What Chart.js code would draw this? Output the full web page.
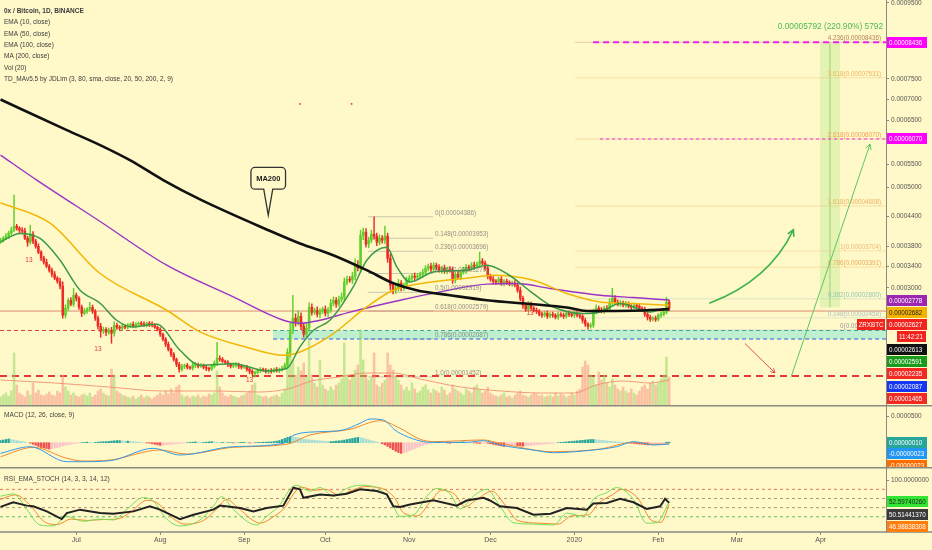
<!DOCTYPE html>
<html lang="en">
<head>
<meta charset="UTF-8">
<title>0x / Bitcoin, 1D, BINANCE</title>
<script src="https://cdn.jsdelivr.net/npm/chart.js"></script>
<style>
  html, body { margin: 0; padding: 0; background: #fff8c9; }
  #wrap { position: relative; width: 932px; height: 550px; overflow: hidden; background: #fff8c9; }
  #wrap canvas { position: absolute; left: 0; }
</style>
</head>
<body>
<div id="wrap">
  <canvas id="priceChart" width="932" height="405" style="top:0"></canvas>
  <canvas id="macdChart" width="932" height="62" style="top:405px"></canvas>
  <canvas id="rsiChart" width="932" height="83" style="top:467px"></canvas>
</div>
<script>
// ---- data (prices in satoshi, day index 0 = 3 Jun 2019) ----
const monthDays = [28, 59, 90, 120, 151, 181, 212, 243, 272, 303];
const monthLabels = ['Jul', 'Aug', 'Sep', 'Oct', 'Nov', 'Dec', '2020', 'Feb', 'Mar', 'Apr'];

const firstOpen = 3880;
const closes = [
  3915, 3955, 3995, 4055, 4115, 4195, 4155, 4115, 4095, 3955, 3875, 4035, 3895,
  3795, 3680, 3563, 3486, 3409, 3333, 3257, 3182, 3125, 3033, 2504,
  2629, 2774, 2702, 2866, 2810, 2647, 2540, 2575, 2611, 2647, 2575,
  2450, 2310, 2222, 2256, 2205, 2239, 2187, 2327, 2292, 2275, 2310, 2292,
  2327, 2345, 2310, 2345, 2362, 2345, 2327, 2362, 2345, 2327, 2292, 2256,
  2170, 2083, 1997, 1912, 1827, 1743, 1660, 1577,
  1627, 1643, 1610, 1594, 1643, 1660, 1627, 1643, 1610, 1594, 1577, 1627, 1676,
  1760, 1743, 1709, 1693, 1660, 1627, 1643, 1660, 1627, 1610, 1610, 1577, 1543, 1511, 1527,
  1560, 1577, 1560, 1543, 1560, 1543, 1577, 1560, 1577, 1594, 1643,
  1861, 2239, 2450, 2380, 2486, 2310, 2170, 2275,
  2647, 2557, 2593, 2522, 2575, 2611, 2540, 2593, 2720, 2774, 2702, 2792, 2829,
  3106, 3163, 3144, 3220, 3428, 3371, 4014, 4075, 3836, 3915, 4035, 3995, 3875, 3955, 3915, 3995,
  3563, 3051, 2958, 2995, 3088, 3014, 3051, 3144, 3182, 3220, 3201, 3220, 3257, 3295, 3371, 3409, 3352, 3428,
  3390, 3333, 3371, 3314, 3352, 3333, 3144, 3257, 3201, 3295, 3333, 3390, 3371, 3428, 3409, 3447, 3505, 3466, 3371, 3220,
  3163, 3125, 3106, 3163, 3088, 3125, 3106, 3070, 3088, 3051, 2958, 2810, 2684, 2611, 2702, 2629, 2593, 2575, 2522, 2504,
  2540, 2486, 2522, 2504, 2468, 2522, 2504, 2486, 2540, 2522, 2504, 2540, 2504, 2486, 2415, 2345, 2310, 2327,
  2557, 2629, 2593, 2575, 2629, 2611, 2738, 2810, 2738, 2702, 2720, 2684, 2702, 2666, 2647, 2684, 2666, 2629, 2611,
  2522, 2468, 2433, 2450, 2433, 2504, 2522, 2557, 2738, 2627
];
const wickUp = [
  40, 30, 50, 40, 60, 641, 40, 30, 50, 60, 40, 180, 50,
  40, 50, 30, 40, 60, 30, 40, 50, 30, 60, 80,
  60, 40, 50, 129, 40, 30, 40, 50, 30, 91, 40,
  30, 40, 50, 40, 30, 40, 50, 60, 40, 30, 40, 30,
  30, 20, 40, 30, 20, 30, 40, 20, 30, 40, 30, 20,
  30, 20, 30, 40, 20, 30, 20, 30,
  30, 20, 30, 20, 40, 30, 20, 30, 20, 30, 20, 30, 40,
  271, 40, 30, 20, 30, 20, 40, 30, 20, 30, 20, 30, 20, 30, 20,
  20, 30, 20, 30, 20, 30, 20, 30, 20, 30, 40,
  60, 120, 416, 80, 100, 60, 40, 80,
  80, 60, 40, 60, 50, 40, 60, 50, 70, 60, 50, 60, 80,
  80, 60, 50, 70, 120, 90, 100, 80, 70, 60, 80, 351, 60, 70, 50, 200,
  60, 80, 50, 60, 70, 50, 40, 60, 50, 40, 60, 50, 40, 60, 50, 40, 60, 50,
  40, 50, 40, 60, 40, 50, 60, 40, 50, 40, 60, 50, 40, 50, 60, 40, 175, 50, 40, 60,
  40, 50, 30, 40, 50, 30, 40, 30, 40, 50, 40, 60, 40, 30, 50, 40, 30, 40, 30, 40,
  30, 40, 30, 40, 30, 40, 30, 40, 30, 40, 30, 40, 30, 40, 30, 40, 30, 40,
  50, 60, 40, 50, 40, 50, 60, 185, 50, 40, 50, 40, 50, 40, 30, 40, 30, 40, 30,
  40, 30, 40, 30, 40, 30, 40, 50, 91, 40
];
const wickDn = [
  30, 40, 30, 50, 40, 30, 40, 60, 40, 30, 80, 40, 50,
  40, 30, 50, 40, 30, 40, 50, 30, 40, 50, 54,
  50, 40, 30, 40, 50, 40, 60, 30, 40, 30, 40,
  40, 50, 104, 40, 60, 40, 173, 50, 40, 30, 40, 30,
  30, 40, 20, 30, 40, 30, 20, 30, 40, 30, 20, 30,
  40, 30, 40, 30, 40, 30, 40, 50,
  30, 40, 30, 20, 30, 40, 30, 20, 30, 40, 30, 20, 30,
  40, 30, 20, 30, 40, 30, 20, 30, 40, 30, 20, 30, 40, 30, 59,
  30, 40, 20, 30, 40, 30, 20, 30, 40, 30, 20,
  40, 80, 60, 70, 50, 60, 52, 60,
  60, 50, 40, 50, 60, 40, 50, 60, 40, 50, 60, 40, 50,
  60, 50, 40, 60, 70, 50, 80, 90, 60, 70, 50, 60, 70, 50, 60, 70,
  80, 90, 70, 60, 50, 70, 60, 50, 40, 50, 60, 40, 50, 60, 40, 50, 60, 40,
  50, 40, 60, 40, 50, 40, 60, 50, 40, 50, 40, 60, 50, 40, 50, 40, 60, 50, 40, 50,
  40, 50, 40, 30, 40, 50, 40, 30, 40, 30, 40, 50, 60, 40, 30, 40, 30, 40, 30, 40,
  30, 40, 30, 40, 30, 40, 30, 40, 30, 40, 30, 40, 30, 40, 50, 40, 50, 35,
  40, 30, 40, 30, 40, 30, 40, 50, 40, 30, 40, 30, 40, 30, 40, 30, 40, 30, 40,
  40, 50, 40, 30, 40, 30, 40, 30, 30, 40
];
const volumes = [
  8, 10, 12, 9, 14, 52, 20, 12, 10, 8, 14, 10, 22,
  12, 15, 10, 9, 11, 13, 10, 9, 14, 12, 30,
  18, 14, 10, 12, 9, 8, 10, 11, 9, 12, 8, 10, 14, 16, 12, 10, 9,
  36, 30, 14, 12, 10, 9,
  8, 7, 9, 6, 8, 10, 7, 9, 8, 6, 8, 10,
  12, 10, 14, 11, 16, 12, 18, 20,
  10, 8, 9, 7, 9, 8, 10, 7, 9, 8, 11, 10, 12,
  34, 18, 12, 9, 8, 10, 9, 8, 7, 9, 10, 12, 14, 20, 22,
  10, 9, 8, 9, 7, 8, 9, 10, 8, 12, 16,
  40, 52, 45, 30, 38, 34, 42, 28,
  65, 30, 22, 18, 45, 20, 16, 14, 18, 15, 20, 22, 26,
  62, 30, 25, 28, 35, 40, 75, 45, 30, 25, 28, 52, 20, 18, 22, 25, 52,
  40, 35, 28, 25, 20, 15, 18, 14, 22, 16, 12, 14, 18, 20, 15, 12, 16,
  14, 12, 18, 15, 10, 12, 20, 16, 14, 12, 10, 16, 14, 12, 18, 20, 15, 12, 14, 18,
  12, 10, 9, 8, 10, 12, 8, 9, 7, 10, 12, 14, 10, 9, 8, 10, 12, 11, 9, 10,
  8, 9, 10, 8, 12, 9, 11, 10, 8, 9, 12, 10, 14, 16,
  38, 44, 40, 30, 28, 20, 33, 25, 30, 22, 18, 26, 20, 16, 14, 18,
  14, 12, 16, 12, 10, 14, 18, 20, 16, 22, 24, 20, 22, 26, 30, 48, 28
];
const volMaDay = [0, 20, 40, 60, 80, 95, 106, 115, 125, 135, 145, 155, 170, 185, 200, 212, 220, 230, 240, 247];
const volMaVal = [25, 22, 18, 14, 14, 13, 16, 24, 28, 32, 32, 26, 18, 14, 12, 12, 20, 24, 22, 25];

const ema10Day = [0, 7.2, 14.6, 22, 29.4, 36.8, 42.9, 49.1, 57.7, 66.3, 73.7, 86, 98.3, 105.7, 110.6, 115.6, 121.7, 130.3, 135.3, 142.7, 146.4, 151.3, 159.9, 172.2, 179.6, 187, 196.8, 204.2, 215.3, 221.5, 228.9, 240, 246.1, 247];
const ema10Val = [3880, 4050, 3950, 3524, 2958, 2720, 2415, 2296, 2345, 1895, 1643, 1670, 1549, 1588, 1952, 2239, 2415, 3018, 3524, 3775, 3395, 3111, 3300, 3333, 3428, 3270, 2896, 2652, 2535, 2562, 2716, 2562, 2623, 2591];
const ema50Day = [0, 18.3, 36.8, 61.4, 73.7, 92.2, 104.5, 110.6, 122, 135.3, 145.1, 159.9, 172.2, 182, 196.8, 209.2, 221.5, 233.8, 247];
const ema50Val = [4675, 4255, 3270, 2593, 2210, 1930, 1810, 1866, 2150, 2652, 2958, 3116, 3180, 3238, 3144, 2896, 2744, 2716, 2682];
const ema100Day = [0, 13.4, 36.8, 61.4, 86, 104.5, 110.6, 118, 129.1, 147.6, 162.4, 179.6, 190.7, 203, 221.5, 233.8, 247];
const ema100Val = [5705, 5157, 4290, 3428, 2835, 2415, 2362, 2415, 2560, 2774, 2927, 3070, 3082, 2990, 2866, 2823, 2778];
const ma200Day = [0, 24.5, 36.8, 47.8, 60.1, 73.7, 98.3, 110.6, 122.9, 135.3, 145.1, 153.7, 166, 179.6, 196.8, 209.2, 216.5, 233.8, 247];
const ma200Val = [6996, 6274, 5931, 5594, 5157, 4746, 4129, 3850, 3621, 3333, 3088, 2958, 2866, 2774, 2702, 2642, 2580, 2585, 2613];

const priceTicks = [3000, 3400, 3800, 4400, 5000, 5500, 6500, 7000, 7500, 9500];

// MACD, values in 1e-8
const macdDay = [0, 10.9, 24.5, 29.4, 40.5, 56.4, 66.3, 86, 104.5, 106.9, 110.6, 118, 126.6, 132.8, 136.5, 141.4, 145.7, 147.6, 153.7, 158.7, 172.2, 178.4, 184.5, 196.8, 204.2, 215.3, 227.6, 233.8, 241.2, 247];
const macdVal = [-199, -75, -356, -356, -337, -105, -230, -75, -11, 101, 176, 206, 238, 363, 444, 425, 238, 176, 51, 7, 7, 37, -43, -137, -187, -155, -75, 19, -43, -23];
const signalDay = [0, 12.1, 24.5, 30.6, 40.5, 58.9, 68.8, 86, 105.7, 114.3, 129.1, 140.2, 147.6, 155, 159.9, 178.4, 184.5, 204.2, 221.5, 233.8, 241.2, 247];
const signalVal = [-262, -86, -292, -343, -324, -137, -212, -86, -30, 144, 251, 412, 270, 64, 19, 51, -11, -169, -118, 7, -30, -23];
const hist = [
  40, 50, 60, 70, 60, 50, 40, 30,
  20, 10, 0, -10,
  -30, -50, -70, -90, -100, -110, -120, -110, -100, -90, -80, -60, -50, -40, -30,
  -20, -10, -5, 0, 5, 10, 5, 0, 5, 10, 15, 20, 20,
  25, 30, 35, 40, 40, 35, 30, 30, 25, 20, 15, 10, 5, 0, -5,
  -10, -20, -30, -40, -50, -45,
  -40, -35, -30, -25, -20, -15, -10, -5, 0,
  5, 10, 15, 10, 5, 5, 10, 15, 20, 15, 10, 5, 5, 0, 0,
  0, -5, -5, 0, 5, 5, 0, -5, -5, 0, 5, 5, 10, 10, 15, 15, 20,
  30, 40, 60, 80, 100, 110, 105, 100, 90, 80,
  70, 60, 55, 50, 45, 40, 35, 30, 25, 20, 20, 25, 30, 35,
  40, 50, 60, 70, 80, 90, 100, 95, 85, 70,
  55, 40, 25, 10, 0, -20, -40, -70,
  -100, -130, -160, -185, -200, -190, -175, -150,
  -130, -110, -90, -70, -50, -35, -20, -10, 0,
  5, 10, 5, 0, -5, -10, -5, 0, 5, 10, 15, 10, 5, 0, -5,
  -10, -15, -10, -5, -10, -20, -30, -40,
  -50, -60, -70, -65, -60, -55, -50, -55, -60, -65, -60, -55, -50, -45, -40, -35, -30, -25, -20, -15,
  -10, -5, 0, 5, 10,
  15, 20, 25, 30, 35, 40, 45, 50, 55, 60, 60, 55, 50, 45, 40, 35, 30, 25, 20, 15, 10, 5,
  0, -5, -10, -15, -20, -25, -30,
  -35, -40, -35, -30, -25, -20, -15, -10, 10, 10
];

// RSI_EMA_STOCH
const rsiDay = [0, 4.7, 9.7, 12.1, 17.1, 22.6, 24.5, 29.4, 36.8, 41.7, 49.1, 55.2, 58.9, 66.3, 71.3, 78.6, 81.1, 88.5, 93.4, 98.3, 104.5, 108.2, 110.6, 111.9, 118, 123, 127.9, 132.8, 139, 142.7, 145.1, 147.6, 151.3, 159.9, 168.5, 172.2, 178.4, 180.8, 184.5, 190.7, 196.9, 203.2, 209.2, 216.6, 219, 224, 228.9, 233.8, 238.7, 243.7, 245.5, 247];
const rsiVal = [41.6, 51.8, 44.4, 42.9, 31.8, 14.9, 28.2, 35.6, 28.2, 26.7, 31.8, 42.9, 35.6, 14.9, 24.4, 35.6, 44.4, 39.3, 31.8, 39.3, 44.4, 83.8, 80, 61.6, 68.9, 66.7, 70.4, 80, 76.3, 68.9, 42.9, 41.6, 46.7, 56.3, 44.4, 55.6, 61.6, 55.6, 42.9, 39.3, 24.4, 26.7, 39.3, 35.6, 48.9, 50.4, 59.3, 51.8, 37.1, 42.9, 59.3, 50.5];
const kDay = [0, 4.9, 9.7, 14.6, 19.5, 24.5, 30.6, 36.8, 41.7, 46.6, 52.8, 56.5, 61.4, 66.3, 73.7, 78.6, 81.7, 86, 94.6, 98.3, 103.3, 106.9, 109.4, 114.3, 118, 123, 127.9, 132.8, 139, 143.9, 147.6, 152.5, 157.5, 161.1, 166.1, 169.8, 174.7, 179.6, 184.5, 189.5, 196.9, 204.3, 209.2, 215.3, 219, 224, 227.6, 233.8, 238.7, 242.4, 247];
const kVal = [65, 70, 36, 2, 0, 21, 10, 15, 13, 36, 62, 54, 15, 0, 13, 43, 64, 36, 2, 21, 47, 80, 89, 76, 84, 65, 82, 89, 84, 58, 21, 24, 65, 82, 70, 37, 65, 80, 43, 7, 4, 2, 28, 21, 58, 73, 84, 58, 6, 7, 52.6];
const dDay = [0, 5.5, 11, 16, 21, 26, 32, 38, 43, 48, 54, 58, 63, 68, 75, 80, 83.5, 88, 96, 100, 105, 108.5, 111, 116, 120, 125, 130, 134.5, 141, 145.5, 149, 154, 159, 163, 168, 171.5, 176, 181.5, 186.5, 191, 199, 206, 211, 217, 221, 226, 229.5, 235.5, 240.5, 244, 247];
const dVal = [58, 68, 45, 10, 3, 15, 12, 14, 15, 30, 56, 50, 20, 4, 12, 38, 58, 38, 6, 17, 40, 72, 85, 78, 80, 68, 78, 86, 82, 62, 28, 22, 55, 78, 68, 42, 58, 76, 45, 12, 6, 4, 22, 24, 50, 68, 80, 60, 12, 8, 47];
const rsiLevels = [80, 60, 40, 20];

// drawings
const fibLeftLevels = ['0', '0.148', '0.236', '0.382', '0.5', '0.618', '0.786', '1.0'];
const fibLeftVals = [4386, 3953, 3696, 3270, 2919, 2579, 2087, 1452];
const fibRightLevels = ['4.236', '3.618', '2.618', '1.618', '1', '0.786', '0.382', '0.148', '0'];
const fibRightVals = [8436, 7531, 6070, 4608, 3704, 3391, 2800, 2458, 2242];
const targetVals = [8436, 6070];
const rangeVals = [2644, 8436];
const rangeText = '0.00005792 (220.90%) 5792';
const zoneVals = [2235, 2087];
const priceLineVal = 2579;
const supportVal = 1465;
const priceBadgeVals = [2778, 2682, 2627, 2613, 2591, 2235, 2087, 1465];
const countdown = '11:42:21';
const macdBadgeVals = [10, -23, -23];
const rsiBadgeVals = [52.5974026, 50.5144137, 46.98838308];
const legendLines = ['0x / Bitcoin, 1D, BINANCE', 'EMA (10, close)', 'EMA (50, close)', 'EMA (100, close)', 'MA (200, close)', 'Vol (20)', 'TD_MAv5.5 by JDLim (3, 80, sma, close, 20, 50, 200, 2, 9)'];
const tdDays = [10.5, 36, 92, 195.6];
const tdVals = [3524, 1912, 1390, 2540];

// ---- styles / layout ----
const FONT = '"Liberation Sans", Arial, sans-serif';
const BG = '#fff8c9';
const UP = '#5fcf2b', DOWN = '#ec2b25';
const xMin = -0.185, xMax = 327.1;
const AXIS_W = 46;
const OFF = 10150;
const badgeColors = ['#9c27b0', '#f5b400', '#f2231d', '#111111', '#1a9b1c', '#f22a22', '#1537f5', '#f22a22'];
const fibRightColors = ['#b5835a', '#f1b45c', '#f0a050', '#f0b060', '#f0b878', '#eeaa55', '#8fc9b8', '#a8c4cc', '#999999'];

// price scale: log of (value + offset)
class OffsetLogScale extends Chart.LinearScale {
  static id = 'offsetlog';
  static defaults = {};
  getPixelForValue(v) {
    const a = Math.log(this.min + OFF), b = Math.log(this.max + OFF);
    return this.getPixelForDecimal((Math.log(v + OFF) - a) / (b - a));
  }
  getValueForPixel(p) {
    const a = Math.log(this.min + OFF), b = Math.log(this.max + OFF);
    return Math.exp(a + this.getDecimalForPixel(p) * (b - a)) - OFF;
  }
}
Chart.register(OffsetLogScale);

const pts = (xs, ys) => xs.map((x, k) => ({ x: x, y: ys[k] }));
const sat8 = v => '0.' + String(Math.round(v)).padStart(8, '0');
const opens = closes.map((c, i) => i === 0 ? firstOpen : closes[i - 1]);
const isUp = closes.map((c, i) => c >= opens[i]);

function seg(ctx, x1, y1, x2, y2, color, w, dash) {
  ctx.save();
  ctx.strokeStyle = color; ctx.lineWidth = w; ctx.setLineDash(dash || []);
  ctx.beginPath(); ctx.moveTo(x1, y1); ctx.lineTo(x2, y2); ctx.stroke();
  ctx.restore();
}
function head(ctx, x, y, ang, size, color, w) {
  ctx.save();
  ctx.strokeStyle = color; ctx.lineWidth = w;
  ctx.beginPath();
  ctx.moveTo(x - size * Math.cos(ang - 0.5), y - size * Math.sin(ang - 0.5));
  ctx.lineTo(x, y);
  ctx.lineTo(x - size * Math.cos(ang + 0.5), y - size * Math.sin(ang + 0.5));
  ctx.stroke();
  ctx.restore();
}
function badge(ctx, x, y, text, bg, fg, w) {
  ctx.fillStyle = bg;
  ctx.fillRect(x, Math.round(y - 5.5), w, 11);
  ctx.fillStyle = fg;
  ctx.font = '6.3px ' + FONT;
  ctx.textAlign = 'left'; ctx.textBaseline = 'middle';
  ctx.fillText(text, x + 2, Math.round(y - 5.5) + 6);
}
function paneLabel(ctx, text, y) {
  ctx.fillStyle = '#444';
  ctx.font = '6.6px ' + FONT;
  ctx.textAlign = 'left'; ctx.textBaseline = 'middle';
  ctx.fillText(text, 4, y);
}
function rightAxis(extra) {
  return Object.assign({
    position: 'right',
    grid: { drawOnChartArea: false, drawTicks: true, tickLength: 3, color: '#8a8a80' },
    border: { display: true, color: '#8a8a80', width: 1 },
    ticks: { font: { size: 6.5, family: FONT }, color: '#555', padding: 2 },
    afterFit(s) { s.width = AXIS_W; s.paddingTop = 0; s.paddingBottom = 0; }
  }, extra);
}
const tickFont = { size: 6.5, family: FONT };
const hiddenX = { type: 'linear', min: xMin, max: xMax, display: false, offset: false, grid: { offset: false } };
const common = { responsive: false, animation: false, layout: { padding: 0 }, plugins: { legend: { display: false }, tooltip: { enabled: false } } };

// ---- price pane ----
const priceDrawings = {
  id: 'priceDrawings',
  beforeDatasetsDraw(chart) {
    const { ctx, chartArea: a, scales } = chart;
    const X = d => scales.x.getPixelForValue(d), Y = v => scales.y.getPixelForValue(v);
    ctx.save();
    ctx.beginPath(); ctx.rect(a.left, a.top, a.right - a.left, a.bottom - a.top); ctx.clip();
    // green price range band
    const bx1 = X(302.7), bx2 = X(310.1);
    ctx.fillStyle = 'rgba(195,235,150,0.45)';
    ctx.fillRect(bx1, Y(rangeVals[1]), bx2 - bx1, Y(rangeVals[0]) - Y(rangeVals[1]));
    seg(ctx, X(306.4), Y(rangeVals[1]), X(306.4), Y(rangeVals[0]), 'rgba(140,200,110,0.8)', 1);
    // fib extension (right)
    fibRightVals.forEach((v, k) => seg(ctx, X(212.2), Y(v), a.right, Y(v), fibRightColors[k] + '55', 1));
    // fib retracement (left)
    fibLeftVals.forEach(v => seg(ctx, X(135.8), Y(v), X(159.8), Y(v), 'rgba(150,150,150,0.5)', 1));
    // horizontal levels
    seg(ctx, a.left, Y(priceLineVal), a.right, Y(priceLineVal), 'rgba(214,120,96,0.85)', 1);
    const zx = X(100.7);
    seg(ctx, a.left, Y(zoneVals[0]), zx, Y(zoneVals[0]), '#e0403a', 1, [4, 3]);
    ctx.fillStyle = 'rgba(110,228,215,0.45)';
    ctx.fillRect(zx, Y(zoneVals[0]), a.right - zx, Y(zoneVals[1]) - Y(zoneVals[0]));
    seg(ctx, zx, Y(zoneVals[0]), a.right, Y(zoneVals[0]), '#3aa5a5', 1, [4, 3]);
    seg(ctx, zx, Y(zoneVals[1]), a.right, Y(zoneVals[1]), '#2a5cf0', 1, [4, 3]);
    seg(ctx, a.left, Y(supportVal), a.right, Y(supportVal), '#e53935', 2, [7, 5]);
    // targets
    seg(ctx, X(218.9), Y(targetVals[0]), a.right, Y(targetVals[0]), '#f020f0', 2, [6, 4]);
    seg(ctx, X(221.5), Y(targetVals[1]), a.right, Y(targetVals[1]), '#f020f0', 1, [3, 3]);
    ctx.restore();
  },
  afterDatasetsDraw(chart) {
    const { ctx, chartArea: a, scales } = chart;
    const X = d => scales.x.getPixelForValue(d), Y = v => scales.y.getPixelForValue(v);
    ctx.save();
    // fib labels
    ctx.font = '6.3px ' + FONT; ctx.textBaseline = 'bottom';
    ctx.textAlign = 'left'; ctx.fillStyle = 'rgba(110,110,110,0.75)';
    fibLeftVals.forEach((v, k) => ctx.fillText(fibLeftLevels[k] + '(' + sat8(v) + ')', X(159.8) + 2, Y(v) - 0.5));
    ctx.textAlign = 'right';
    fibRightVals.forEach((v, k) => {
      ctx.fillStyle = fibRightColors[k];
      ctx.fillText(fibRightLevels[k] + '(' + sat8(v) + ')', a.right - 5, Y(v) - 0.5);
    });
    // range text
    ctx.font = '8.3px ' + FONT; ctx.fillStyle = '#4cbb55'; ctx.textBaseline = 'middle';
    ctx.fillText(rangeText, a.right - 3, Y(rangeVals[1]) - 15.5);
    // arrows
    const p0 = [X(261.8), Y(2720)], pc = [X(283.9), Y(3133)], p1 = [X(292.9), Y(4122)];
    ctx.strokeStyle = '#3cb44b'; ctx.lineWidth = 1.6;
    ctx.beginPath(); ctx.moveTo(p0[0], p0[1]); ctx.quadraticCurveTo(pc[0], pc[1], p1[0], p1[1]); ctx.stroke();
    head(ctx, p1[0], p1[1], Math.atan2(p1[1] - pc[1], p1[0] - pc[0]), 7, '#3cb44b', 1.6);
    const r0 = [X(275), Y(2010)], r1 = [X(286.1), Y(1516)];
    seg(ctx, r0[0], r0[1], r1[0], r1[1], '#e05050', 1);
    head(ctx, r1[0], r1[1], Math.atan2(r1[1] - r0[1], r1[0] - r0[0]), 5, '#e05050', 1);
    const g0 = [X(292), Y(1445)], g1 = [X(321.2), Y(5953)];
    seg(ctx, g0[0], g0[1], g1[0], g1[1], '#5cc860', 1);
    head(ctx, g1[0], g1[1], Math.atan2(g1[1] - g0[1], g1[0] - g0[0]), 6, '#5cc860', 1);
    // MA200 callout
    const cx = X(98.9), ty = Y(4420), bw = 34.6, bh = 21.7, r = 4;
    const bottom = ty - 26, top = bottom - bh, left = cx - bw / 2, right = cx + bw / 2;
    ctx.beginPath();
    ctx.moveTo(left + r, top); ctx.lineTo(right - r, top); ctx.arcTo(right, top, right, top + r, r);
    ctx.lineTo(right, bottom - r); ctx.arcTo(right, bottom, right - r, bottom, r);
    ctx.lineTo(cx + 4.5, bottom); ctx.lineTo(cx, ty); ctx.lineTo(cx - 4.5, bottom);
    ctx.lineTo(left + r, bottom); ctx.arcTo(left, bottom, left, bottom - r, r);
    ctx.lineTo(left, top + r); ctx.arcTo(left, top, left + r, top, r); ctx.closePath();
    ctx.fillStyle = BG; ctx.fill(); ctx.strokeStyle = '#333'; ctx.lineWidth = 1.3; ctx.stroke();
    ctx.fillStyle = '#222'; ctx.font = 'bold 7.5px ' + FONT; ctx.textAlign = 'center'; ctx.textBaseline = 'middle';
    ctx.fillText('MA200', cx, top + bh / 2 + 0.5);
    // TD 13 counts
    ctx.fillStyle = '#e53935'; ctx.font = '6.5px ' + FONT;
    tdDays.forEach((d, k) => ctx.fillText('13', X(d), Y(tdVals[k])));
    // small signal dots
    ctx.fillStyle = '#d33';
    [110.6, 129.7].forEach(d => { ctx.beginPath(); ctx.arc(X(d), Y(6890), 0.9, 0, Math.PI * 2); ctx.fill(); });
    // legend
    ctx.textAlign = 'left'; ctx.textBaseline = 'middle'; ctx.fillStyle = '#3c3c3c';
    legendLines.forEach((t, k) => {
      ctx.font = (k === 0 ? 'bold ' : '') + '6.5px ' + FONT;
      ctx.fillText(t, 4, 11 + k * 11.4);
    });
    // axis badges
    const bx = a.right + 1;
    targetVals.forEach(v => badge(ctx, bx, Y(v), sat8(v), '#ff00ff', '#fff', 40));
    let by = Y(priceBadgeVals[0]);
    priceBadgeVals.forEach((v, k) => {
      badge(ctx, bx, by, sat8(v), badgeColors[k], k === 1 ? '#222' : '#fff', 40);
      if (k === 2) {
        ctx.fillStyle = '#f2231d';
        ctx.fillRect(a.right - 29, Math.round(by - 5.5), 28, 11);
        ctx.fillStyle = '#fff'; ctx.font = '6.3px ' + FONT; ctx.textAlign = 'center';
        ctx.fillText('ZRXBTC', a.right - 15, Math.round(by - 5.5) + 6);
        ctx.textAlign = 'left';
        by += 12.2;
        ctx.fillStyle = '#f2231d';
        ctx.fillRect(bx + 10, Math.round(by - 5.5), 29, 11);
        ctx.fillStyle = '#fff'; ctx.fillText(countdown, bx + 12, Math.round(by - 5.5) + 6);
      }
      by += 12.3;
    });
    ctx.restore();
  }
};

new Chart(document.getElementById('priceChart'), {
  type: 'bar',
  data: {
    datasets: [
      { type: 'line', data: pts(ma200Day, ma200Val), borderColor: '#111', borderWidth: 2.6, pointRadius: 0, cubicInterpolationMode: 'monotone', order: 1 },
      { type: 'line', data: pts(ema10Day, ema10Val), borderColor: '#3a9a45', borderWidth: 1.5, pointRadius: 0, cubicInterpolationMode: 'monotone', order: 2 },
      { type: 'line', data: pts(ema50Day, ema50Val), borderColor: '#f2b705', borderWidth: 1.5, pointRadius: 0, cubicInterpolationMode: 'monotone', order: 3 },
      { type: 'line', data: pts(ema100Day, ema100Val), borderColor: '#9b34c6', borderWidth: 1.4, pointRadius: 0, cubicInterpolationMode: 'monotone', order: 4 },
      { type: 'bar', data: closes.map((c, i) => ({ x: i, y: [opens[i], c] })), backgroundColor: isUp.map(u => u ? UP : DOWN), barThickness: 1.9, minBarLength: 1, grouped: false, order: 5 },
      { type: 'bar', data: closes.map((c, i) => ({ x: i, y: [Math.min(c, opens[i]) - wickDn[i], Math.max(c, opens[i]) + wickUp[i]] })), backgroundColor: isUp.map(u => u ? UP : DOWN), barThickness: 0.8, grouped: false, order: 6 },
      { type: 'line', yAxisID: 'vol', data: pts(volMaDay, volMaVal), borderColor: 'rgba(238,140,110,0.85)', borderWidth: 1, pointRadius: 0, cubicInterpolationMode: 'monotone', order: 7 },
      { type: 'bar', yAxisID: 'vol', data: volumes.map((v, i) => ({ x: i, y: v })), backgroundColor: isUp.map(u => u ? 'rgba(150,215,100,0.55)' : 'rgba(245,150,130,0.55)'), barThickness: 1.9, grouped: false, order: 8 }
    ]
  },
  options: Object.assign({}, common, {
    scales: {
      x: hiddenX,
      y: rightAxis({
        type: 'offsetlog', min: 1001, max: 9577,
        afterBuildTicks(s) { s.ticks = priceTicks.map(v => ({ value: v })); },
        ticks: { font: tickFont, color: '#555', padding: 2, callback: v => '0.000' + v }
      }),
      vol: { type: 'linear', display: false, min: 0, max: 405 }
    }
  }),
  plugins: [priceDrawings]
});

// ---- MACD pane ----
const macdDrawings = {
  id: 'macdDrawings',
  afterDraw(chart) {
    const { ctx, chartArea: a, scales } = chart;
    ctx.save();
    seg(ctx, 0, 0.75, chart.width, 0.75, '#8a8a80', 1.5);
    paneLabel(ctx, 'MACD (12, 26, close, 9)', 10);
    const cols = ['#26a69a', '#2196f3', '#ff6d00'];
    let by = scales.y.getPixelForValue(macdBadgeVals[0]);
    macdBadgeVals.forEach((v, k) => { badge(ctx, a.right + 1, by, (v / 1e8).toFixed(8), cols[k], '#fff', 40); by += 11.5; });
    ctx.restore();
  }
};
new Chart(document.getElementById('macdChart'), {
  type: 'bar',
  data: {
    datasets: [
      { type: 'line', data: pts(macdDay, macdVal), borderColor: '#2f9be8', borderWidth: 1, pointRadius: 0, cubicInterpolationMode: 'monotone', order: 1 },
      { type: 'line', data: pts(signalDay, signalVal), borderColor: '#f5892a', borderWidth: 1, pointRadius: 0, cubicInterpolationMode: 'monotone', order: 2 },
      { type: 'bar', data: hist.map((v, i) => ({ x: i, y: v })), grouped: false, barThickness: 1.7, order: 3,
        backgroundColor: hist.map((v, i) => {
          const p = i ? hist[i - 1] : 0;
          return v >= 0 ? (v >= p ? '#26a69a' : '#a8ddd6') : (v < p ? '#ef5350' : '#fbc3c8');
        }) }
    ]
  },
  options: Object.assign({}, common, {
    scales: {
      x: hiddenX,
      y: rightAxis({
        type: 'linear', min: -455, max: 706,
        afterBuildTicks(s) { s.ticks = [{ value: 500 }]; },
        ticks: { font: tickFont, color: '#555', padding: 2, callback: v => '0.0000' + v }
      })
    }
  }),
  plugins: [macdDrawings]
});

// ---- RSI pane ----
const rsiDrawings = {
  id: 'rsiDrawings',
  beforeDatasetsDraw(chart) {
    const { ctx, chartArea: a, scales } = chart;
    const cols = ['#e0785a', '#a89870', '#a89870', '#5cbf5c'];
    rsiLevels.forEach((l, k) => seg(ctx, a.left, scales.y.getPixelForValue(l), a.right, scales.y.getPixelForValue(l), cols[k], 1, [3, 3]));
  },
  afterDraw(chart) {
    const { ctx, chartArea: a, scales } = chart;
    ctx.save();
    seg(ctx, 0, 0.75, chart.width, 0.75, '#8a8a80', 1.5);
    seg(ctx, 0, a.bottom, chart.width, a.bottom, '#8a8a80', 1.5);
    paneLabel(ctx, 'RSI_EMA_STOCH (14, 3, 3, 14, 12)', 12.5);
    const cols = ['#33e533', '#3a3a3a', '#ff7f0e'], fg = ['#222', '#fff', '#fff'];
    let by = scales.y.getPixelForValue(rsiBadgeVals[0]);
    rsiBadgeVals.forEach((v, k) => { badge(ctx, a.right + 1, by, v.toFixed(8), cols[k], fg[k], 41); by += 12.3; });
    ctx.restore();
  }
};
new Chart(document.getElementById('rsiChart'), {
  type: 'line',
  data: {
    datasets: [
      { data: pts(rsiDay, rsiVal), borderColor: '#222', borderWidth: 2, pointRadius: 0, order: 1 },
      { data: pts(kDay, kVal), borderColor: '#74e05a', borderWidth: 1, pointRadius: 0, cubicInterpolationMode: 'monotone', order: 2 },
      { data: pts(dDay, dVal), borderColor: '#f5882a', borderWidth: 1, pointRadius: 0, cubicInterpolationMode: 'monotone', order: 3 }
    ]
  },
  options: Object.assign({}, common, {
    scales: {
      x: {
        type: 'linear', min: xMin, max: xMax, offset: false, position: 'bottom',
        afterBuildTicks(s) { s.ticks = monthDays.map(v => ({ value: v })); },
        ticks: { font: { size: 7, family: FONT }, color: '#555', padding: 1, maxRotation: 0, autoSkip: false,
          callback: (v, idx) => monthLabels[idx] },
        grid: { drawOnChartArea: false, drawTicks: true, tickLength: 3, color: '#8a8a80', offset: false },
        border: { display: false },
        afterFit(s) { s.height = 18; s.paddingLeft = 0; s.paddingRight = 0; }
      },
      y: rightAxis({
        type: 'linear', min: -13.3, max: 128.9,
        afterBuildTicks(s) { s.ticks = [{ value: 100 }]; },
        ticks: { font: tickFont, color: '#555', padding: 2, callback: v => v.toFixed(7) }
      })
    }
  }),
  plugins: [rsiDrawings]
});
</script>
</body>
</html>
